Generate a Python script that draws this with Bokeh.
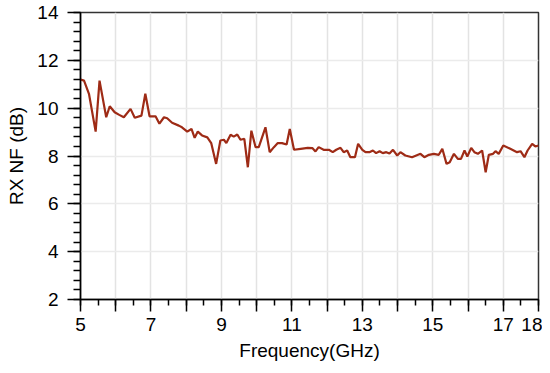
from bokeh.plotting import figure
from bokeh.models import FixedTicker, Range1d
from bokeh.embed import file_html
from bokeh.resources import INLINE

freq_ghz = [5.0, 5.1, 5.24, 5.43, 5.54, 5.73, 5.83, 5.97, 6.1, 6.23, 6.42, 6.54, 6.73, 6.84, 6.96,
            7.13, 7.24, 7.37, 7.46, 7.6, 7.79, 7.88, 8.03, 8.15, 8.24, 8.33, 8.45, 8.6, 8.71, 8.85,
            8.97, 9.07, 9.14, 9.26, 9.35, 9.45, 9.54, 9.65, 9.75, 9.85, 9.97, 10.06, 10.25, 10.37,
            10.49, 10.6, 10.72, 10.85, 10.94, 11.06, 11.25, 11.45, 11.58, 11.67, 11.76, 11.9, 12.05,
            12.16, 12.26, 12.38, 12.47, 12.57, 12.66, 12.79, 12.88, 13.0, 13.09, 13.2, 13.3, 13.39,
            13.49, 13.58, 13.68, 13.77, 13.87, 13.99, 14.08, 14.22, 14.41, 14.65, 14.76, 14.89,
            15.03, 15.17, 15.27, 15.39, 15.48, 15.6, 15.71, 15.8, 15.9, 15.98, 16.09, 16.18, 16.28,
            16.4, 16.5, 16.59, 16.71, 16.78, 16.87, 17.0, 17.2, 17.39, 17.49, 17.6, 17.69, 17.82,
            17.91, 18.0]
rx_nf_db = [11.2, 11.15, 10.6, 9.02, 11.15, 9.62, 10.08, 9.83, 9.72, 9.62, 9.97, 9.6, 9.69, 10.6, 9.66,
            9.66, 9.35, 9.62, 9.58, 9.39, 9.27, 9.2, 9.02, 9.13, 8.76, 9.02, 8.86, 8.78, 8.54, 7.67,
            8.65, 8.68, 8.54, 8.89, 8.81, 8.9, 8.68, 8.72, 7.53, 9.06, 8.37, 8.37, 9.2, 8.16,
            8.37, 8.54, 8.54, 8.48, 9.13, 8.26, 8.3, 8.34, 8.33, 8.19, 8.37, 8.26, 8.26,
            8.16, 8.26, 8.34, 8.16, 8.23, 7.95, 7.95, 8.51, 8.26, 8.16, 8.16, 8.23, 8.12,
            8.2, 8.12, 8.16, 8.1, 8.26, 8.02, 8.16, 8.02, 7.95, 8.09, 7.95, 8.05,
            8.09, 8.05, 8.3, 7.67, 7.74, 8.09, 7.88, 7.88, 8.23, 7.98, 8.34, 8.16, 8.09,
            8.23, 7.32, 8.05, 8.09, 8.2, 8.09, 8.44, 8.3, 8.16, 8.2, 7.95, 8.23, 8.51,
            8.4, 8.44]

x_ticks = list(range(5, 19))
x_labels_shown = [5, 7, 9, 11, 13, 15, 17, 18]
y_ticks = [2, 4, 6, 8, 10, 12, 14]

p = figure(width=542, height=364, output_backend="svg", toolbar_location=None,
           x_range=Range1d(5, 18), y_range=Range1d(2, 14),
           min_border_left=80, min_border_right=4, min_border_top=12, min_border_bottom=65)

p.line(freq_ghz, rx_nf_db, line_color="#9e2b16", line_width=2.2)

p.xaxis.ticker = FixedTicker(ticks=x_ticks, minor_ticks=[5 + 0.5 * i for i in range(27)])
p.xaxis.major_label_overrides = {t: (str(t) if t in x_labels_shown else "") for t in x_ticks}
p.yaxis.ticker = FixedTicker(ticks=y_ticks, minor_ticks=[2 + 0.4 * i for i in range(31)])

for ax in (p.xaxis, p.yaxis):
    ax.axis_line_color = "black"
    ax.axis_line_width = 1.5
    ax.major_tick_line_color = "black"
    ax.major_tick_line_width = 1.5
    ax.minor_tick_line_color = "black"
    ax.minor_tick_line_width = 1.5
    ax.major_tick_in = 0
    ax.minor_tick_in = 0
    ax.major_label_text_font = "Liberation Sans"
    ax.major_label_text_font_size = "19px"
    ax.major_label_text_color = "black"
    ax.axis_label_text_font = "Liberation Sans"
    ax.axis_label_text_font_size = "19px"
    ax.axis_label_text_font_style = "normal"
    ax.axis_label_text_color = "black"

p.xaxis.major_tick_out = 12
p.xaxis.minor_tick_out = 6
p.yaxis.major_tick_out = 13
p.yaxis.minor_tick_out = 7
p.xaxis.major_label_standoff = 6
p.yaxis.major_label_standoff = 9
p.xaxis.axis_label = "Frequency(GHz)"
p.yaxis.axis_label = "RX NF (dB)"
p.xaxis.axis_label_standoff = 6
p.yaxis.axis_label_standoff = 7

p.xgrid.grid_line_color = "#e3e3e3"
p.xgrid.grid_line_width = 1.5
p.ygrid.grid_line_color = "#ebebeb"
p.ygrid.grid_line_width = 1.5

p.outline_line_color = "#333333"
p.outline_line_width = 1.5
p.background_fill_color = "white"
p.border_fill_color = "white"

open("out.html", "w").write(file_html(p, INLINE))
